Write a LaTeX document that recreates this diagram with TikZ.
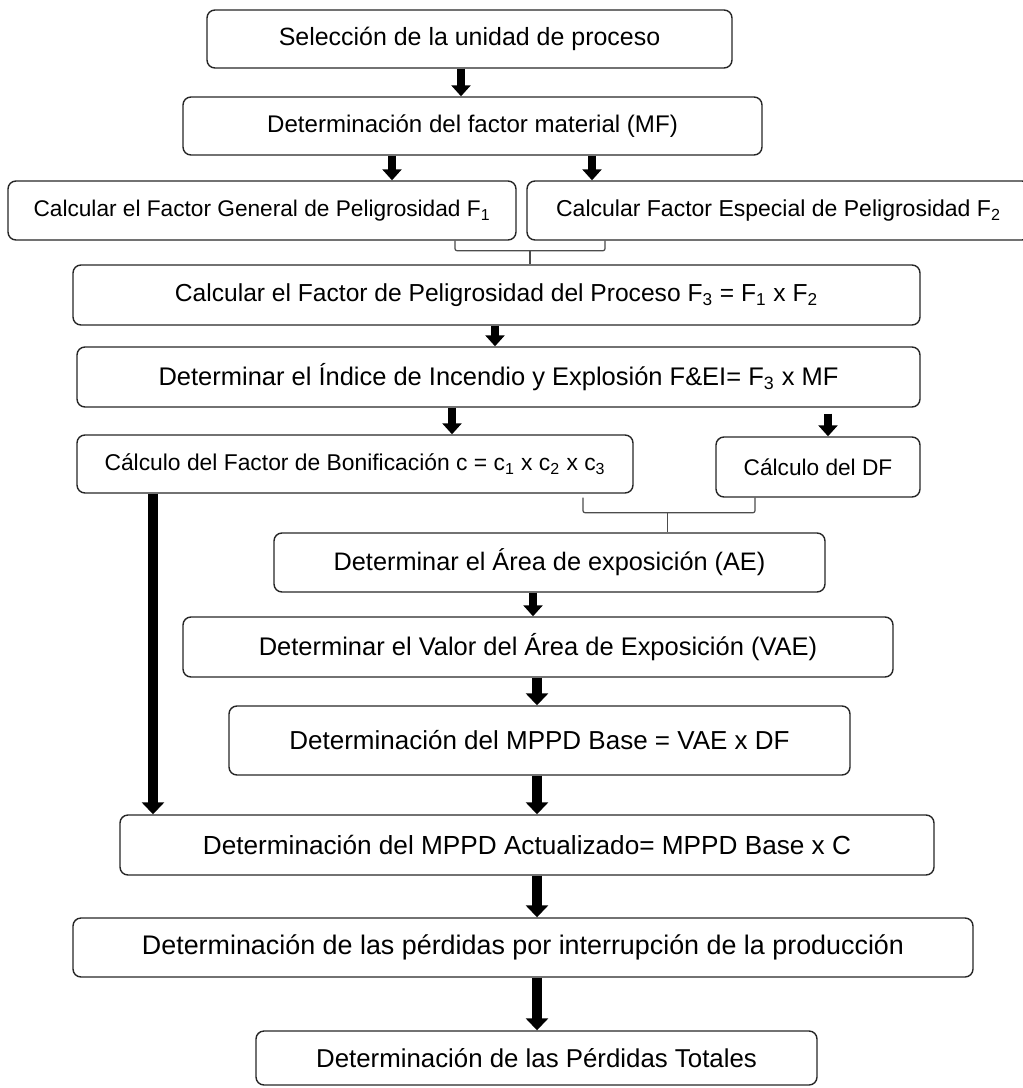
\documentclass[tikz,border=0pt]{standalone}
\usepackage{fontspec}
\setmainfont{Liberation Sans}
\usetikzlibrary{arrows.meta}
\newlength{\px}\setlength{\px}{0.02cm}

\begin{document}
\begin{tikzpicture}[x=0.02cm, y=-0.02cm,
  caja/.style={draw=black!85, line width=1.4\px, rounded corners=8\px, inner sep=0pt,
    align=center, font=\fontsize{#1}{#1}\selectfont},
  caja/.default=14,
  flecha/.style={line width=0.15cm, -{Triangle[width=0.38cm,length=0.22cm]}},
  flechag/.style={line width=0.2cm, -{Triangle[width=0.44cm,length=0.24cm]}},
  llave/.style={draw=black!70, line width=1.2\px, rounded corners=2\px}]
\useasboundingbox (0,0) rectangle (1022,1088);

% cajas del diagrama
\node[caja=14.2, minimum width=525\px, minimum height=58\px] (sel) at (469.5,39) {Selección de la unidad de proceso};
\node[caja=13.7, minimum width=579\px, minimum height=58\px] (mf) at (472.5,126) {Determinación del factor material (MF)};
\node[caja=12.9, minimum width=508\px, minimum height=59\px] (fg) at (262,210.5) {Calcular el Factor General de Peligrosidad F\textsubscript{1}};
\node[caja=13.1, minimum width=503\px, minimum height=59\px] (fe) at (778.5,210.5) {Calcular Factor Especial de Peligrosidad F\textsubscript{2}};
\node[caja, minimum width=847\px, minimum height=60\px] (fp) at (496.5,295) {Calcular el Factor de Peligrosidad del Proceso F\textsubscript{3} = F\textsubscript{1} x F\textsubscript{2}};
\node[caja=14.5, minimum width=843\px, minimum height=60\px] (ind) at (498.5,377) {Determinar el Índice de Incendio y Explosión F\&EI= F\textsubscript{3} x MF};
\node[caja=13, minimum width=556\px, minimum height=58\px] (boni) at (355,464) {Cálculo del Factor de Bonificación c = c\textsubscript{1} x c\textsubscript{2} x c\textsubscript{3}};
\node[caja=12.9, minimum width=204\px, minimum height=60\px] (df) at (818,467) {Cálculo del DF};
\node[caja=14.4, minimum width=551\px, minimum height=59\px] (ae) at (549.5,562.5) {Determinar el Área de exposición (AE)};
\node[caja=14.5, minimum width=710\px, minimum height=60\px] (vae) at (538,647) {Determinar el Valor del Área de Exposición (VAE)};
\node[caja=14.8, minimum width=621\px, minimum height=69\px] (base) at (539.5,740.5) {Determinación del MPPD Base = VAE x DF};
\node[caja=14.9, minimum width=814\px, minimum height=60\px] (act) at (527,845) {Determinación del MPPD Actualizado= MPPD Base x C};
\node[caja=15.3, minimum width=900\px, minimum height=59\px] (int) at (523,947.5) {Determinación de las pérdidas por interrupción de la producción};
\node[caja=14.7, minimum width=561\px, minimum height=54\px] (tot) at (536.5,1058) {Determinación de las Pérdidas Totales};

% flechas
\draw[flecha] (sel.south -| 461,0) -- (mf.north -| 461,0);
\draw[flecha] (mf.south -| 392,0) -- (fg.north -| 392,0);
\draw[flecha] (mf.south -| 592,0) -- (fe.north -| 592,0);
\draw[flecha] (fp.south -| 495,0) -- (ind.north -| 495,0);
\draw[flecha] (ind.south -| 452,0) -- (boni.north -| 452,0);
\draw[flecha, shorten <=6\px] (ind.south -| 828,0) -- (df.north -| 828,0);
\draw[flecha] (ae.south -| 533,0) -- (vae.north -| 533,0);
\draw[flechag] (vae.south -| 537,0) -- (base.north -| 537,0);
\draw[flechag] (base.south -| 537,0) -- (act.north -| 537,0);
\draw[flechag] (boni.south -| 153,0) -- (act.north -| 153,0);
\draw[flechag] (act.south -| 537,0) -- (int.north -| 537,0);
\draw[flechag] (int.south -| 537,0) -- (tot.north -| 537,0);

% llaves que agrupan
\draw[llave] (fg.south -| 455,0) -- ++(0,10) -- coordinate[pos=.5] (ll1) ++(150,0) -- (fe.south -| 605,0);
\draw[llave] (ll1) -- (ll1 |- fp.north);
\draw[llave] ([yshift=-4\px]boni.south -| 583,0) -- ++(0,15) -- coordinate[pos=.493] (ll2) ++(172,0) -- (df.south -| 755,0);
\draw[llave] (ll2) -- (ll2 |- ae.north);
\end{tikzpicture}
\end{document}
